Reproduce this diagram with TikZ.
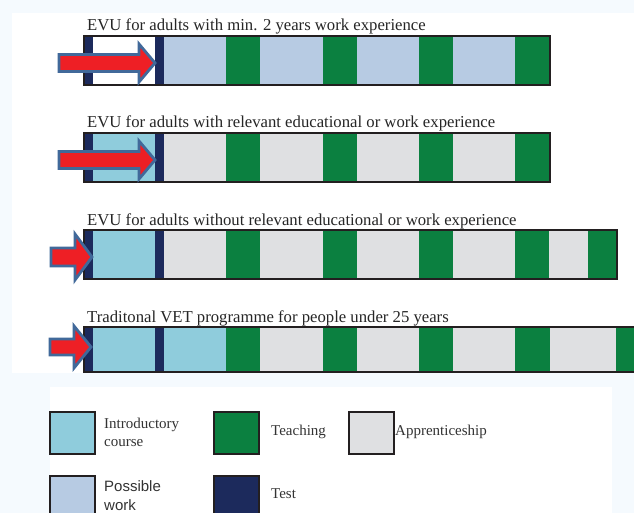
\documentclass[tikz,border=0pt]{standalone}
\usepackage{fontspec}
\setmainfont{Liberation Serif}
\newfontfamily\legsans{Liberation Sans}
\definecolor{testc}{HTML}{1C2A5C}
\definecolor{introc}{HTML}{8FCCDC}
\definecolor{workc}{HTML}{B7CBE3}
\definecolor{teachc}{HTML}{0B8040}
\definecolor{apprc}{HTML}{DFE0E2}
\definecolor{redc}{HTML}{EE1F25}
\definecolor{arrline}{HTML}{41699A}
\definecolor{barline}{HTML}{231F20}
\definecolor{lightbg}{HTML}{F5FAFE}
\tikzset{
  barframe/.style={draw=barline,line width=2pt},
  bigarrow/.style={fill=redc,draw=arrline,line width=2.8pt,line join=miter},
  title/.style={anchor=base west,inner sep=0pt,font=\fontsize{16.7}{20}\selectfont,text=black!85},
  swatch/.style={draw=barline,line width=2pt,minimum width=45pt,minimum height=42pt,inner sep=0pt,anchor=north west},
  legtext/.style={anchor=west,inner sep=0pt,font=\fontsize{15}{20}\selectfont,text=black!80,align=left},
}
\begin{document}
\begin{tikzpicture}[x=1pt,y=-1pt]
\useasboundingbox (0,0) rectangle (634,513);
\fill[lightbg] (0,0) rectangle (634,513);
\fill[white] (12,13) rectangle (634,373);
\fill[white] (50,387) rectangle (612,513);

% ---------- Row 1
\node[title] (t1) at (87,31) {EVU for adults with min. 2 years work experience};
\fill[testc] (84,36) rectangle (93,85);
\fill[white] (93,36) rectangle (155,85);
\fill[testc] (155,36) rectangle (164,85);
\fill[workc] (164,36) rectangle (226,85);
\fill[teachc] (226,36) rectangle (260,85);
\fill[workc] (260,36) rectangle (323,85);
\fill[teachc] (323,36) rectangle (357,85);
\fill[workc] (357,36) rectangle (419,85);
\fill[teachc] (419,36) rectangle (453,85);
\fill[workc] (453,36) rectangle (515,85);
\fill[teachc] (515,36) rectangle (550,85);
\draw[barframe] (84,36) rectangle (550,85);
\draw[bigarrow] (59,54.5) -- (139,54.5) -- (139,44) -- (155,63) -- (139,82) -- (139,71.5) -- (59,71.5) -- cycle;

% ---------- Row 2
\node[title] (t2) at (87,128) {EVU for adults with relevant educational or work experience};
\fill[testc] (84,133) rectangle (93,182);
\fill[introc] (93,133) rectangle (155,182);
\fill[testc] (155,133) rectangle (164,182);
\fill[apprc] (164,133) rectangle (226,182);
\fill[teachc] (226,133) rectangle (260,182);
\fill[apprc] (260,133) rectangle (323,182);
\fill[teachc] (323,133) rectangle (357,182);
\fill[apprc] (357,133) rectangle (419,182);
\fill[teachc] (419,133) rectangle (453,182);
\fill[apprc] (453,133) rectangle (515,182);
\fill[teachc] (515,133) rectangle (550,182);
\draw[barframe] (84,133) rectangle (550,182);
\draw[bigarrow] (59,151.5) -- (139,151.5) -- (139,141) -- (155,160) -- (139,179) -- (139,168.5) -- (59,168.5) -- cycle;

% ---------- Row 3
\node[title] (t3) at (87,225) {EVU for adults without relevant educational or work experience};
\fill[testc] (84,230) rectangle (93,279);
\fill[introc] (93,230) rectangle (155,279);
\fill[testc] (155,230) rectangle (164,279);
\fill[apprc] (164,230) rectangle (226,279);
\fill[teachc] (226,230) rectangle (260,279);
\fill[apprc] (260,230) rectangle (323,279);
\fill[teachc] (323,230) rectangle (357,279);
\fill[apprc] (357,230) rectangle (419,279);
\fill[teachc] (419,230) rectangle (453,279);
\fill[apprc] (453,230) rectangle (515,279);
\fill[teachc] (515,230) rectangle (549,279);
\fill[apprc] (549,230) rectangle (588,279);
\fill[teachc] (588,230) rectangle (617,279);
\draw[barframe] (84,230) rectangle (617,279);
\draw[bigarrow] (51,248) -- (75,248) -- (75,234) -- (92,257) -- (75,280) -- (75,266) -- (51,266) -- cycle;

% ---------- Row 4
\node[title] (t4) at (87,322) {Traditonal VET programme for people under 25 years};
\fill[testc] (84,327) rectangle (93,373);
\fill[introc] (93,327) rectangle (155,373);
\fill[testc] (155,327) rectangle (164,373);
\fill[introc] (164,327) rectangle (226,373);
\fill[teachc] (226,327) rectangle (260,373);
\fill[apprc] (260,327) rectangle (323,373);
\fill[teachc] (323,327) rectangle (357,373);
\fill[apprc] (357,327) rectangle (419,373);
\fill[teachc] (419,327) rectangle (453,373);
\fill[apprc] (453,327) rectangle (515,373);
\fill[teachc] (515,327) rectangle (550,373);
\fill[apprc] (550,327) rectangle (616,373);
\fill[teachc] (616,327) rectangle (634,373);
\draw[barframe] (634,327) -- (84,327) -- (84,372) -- (634,372);
\draw[bigarrow] (50,339) -- (74,339) -- (74,326) -- (91,347) -- (74,368) -- (74,355) -- (50,355) -- cycle;

% ---------- Legend
\node[swatch,fill=introc] (s1) at (49,411) {};
\node[legtext] (l1) at (104,432) {Introductory\\[-2pt]course};
\node[swatch,fill=teachc] (s2) at (213,411) {};
\node[legtext] (l2) at (271,432) {Teaching};
\node[swatch,fill=apprc] (s3) at (348,411) {};
\node[legtext] (l3) at (395,432) {Apprenticeship};
\node[swatch,fill=workc] (s4) at (49,475) {};
\node[legtext,font=\legsans\fontsize{15}{20}\selectfont] (l4) at (104,496) {Possible\\[-1pt]work};
\node[swatch,fill=testc] (s5) at (213,475) {};
\node[legtext] (l5) at (271,494) {Test};
\end{tikzpicture}
\end{document}
